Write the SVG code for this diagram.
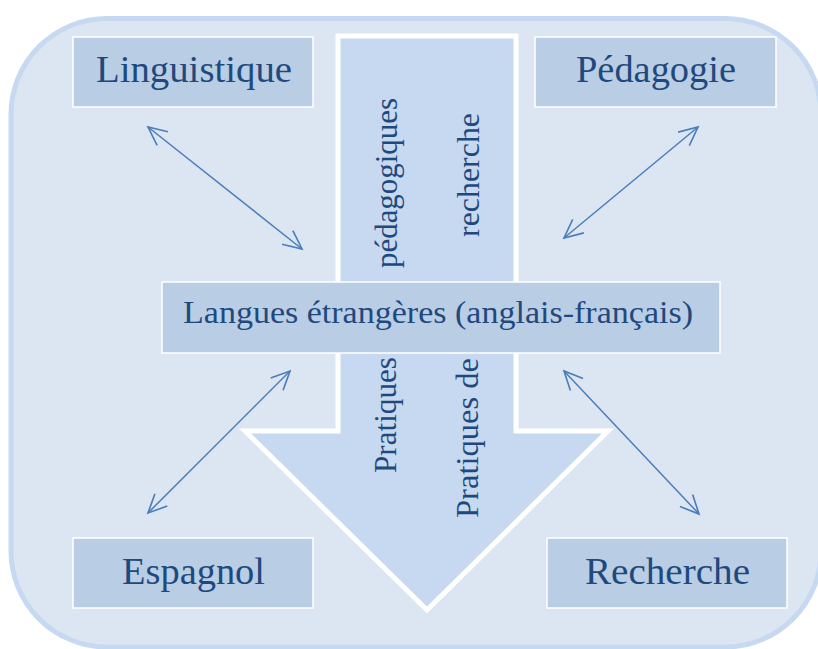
<svg xmlns="http://www.w3.org/2000/svg" width="818" height="649" viewBox="0 0 818 649">
<style>
.nodebox{fill:#b9cde5;stroke:#ffffff;stroke-width:1.5}
.lbl{font-family:"Liberation Serif","Times New Roman",serif;fill:#1f497d}
.big{font-size:37.3px}
.mid{font-size:32px}
.conn{stroke:#4a7ebb;stroke-width:1.5;fill:none;marker-start:url(#ah);marker-end:url(#ah)}
</style>
<defs>
<marker id="ah" markerUnits="userSpaceOnUse" markerWidth="24" markerHeight="24" viewBox="-20 -10 22 20" refX="0" refY="0" orient="auto-start-reverse" overflow="visible">
<path d="M-17,-8 L0,0 L-17,8" fill="none" stroke="#4a7ebb" stroke-width="1.5"/>
</marker>
</defs>
<rect x="0" y="0" width="818" height="649" fill="#ffffff"/>
<g id="background">
<rect x="11" y="18.5" width="810" height="628.5" rx="96" ry="96" fill="#dce6f2" stroke="#c6d9f1" stroke-width="5"/>
</g>
<g id="arrow">
<polygon points="338,36 516,36 516,431 608,431 427,610 245,431 338,431" fill="#c6d9f1" stroke="#ffffff" stroke-width="5" stroke-linejoin="miter"/>
<text class="lbl mid" transform="translate(397,183) rotate(-90)" text-anchor="middle" textLength="170" lengthAdjust="spacingAndGlyphs">pédagogiques</text>
<text class="lbl mid" transform="translate(479,175) rotate(-90)" text-anchor="middle" textLength="124" lengthAdjust="spacingAndGlyphs">recherche</text>
<text class="lbl mid" transform="translate(396,415) rotate(-90)" text-anchor="middle" textLength="116" lengthAdjust="spacingAndGlyphs">Pratiques</text>
<text class="lbl mid" transform="translate(478,438) rotate(-90)" text-anchor="middle" textLength="160" lengthAdjust="spacingAndGlyphs">Pratiques de</text>
</g>
<g id="connectors">
<line class="conn" x1="148" y1="127" x2="302" y2="249"/>
<line class="conn" x1="698" y1="127" x2="564" y2="238"/>
<line class="conn" x1="290" y1="371" x2="148" y2="513"/>
<line class="conn" x1="564" y1="371" x2="699" y2="514"/>
</g>
<g id="linguistique">
<rect class="nodebox" x="73" y="37" width="240" height="70"/>
<text class="lbl big" x="194" y="82" text-anchor="middle" textLength="196" lengthAdjust="spacingAndGlyphs">Linguistique</text>
</g>
<g id="pedagogie">
<rect class="nodebox" x="535" y="37" width="241" height="70"/>
<text class="lbl big" x="656" y="82" text-anchor="middle" textLength="160" lengthAdjust="spacingAndGlyphs">Pédagogie</text>
</g>
<g id="langues">
<rect class="nodebox" x="162" y="282" width="558" height="71"/>
<text class="lbl mid" x="438" y="323" text-anchor="middle" textLength="510" lengthAdjust="spacingAndGlyphs">Langues étrangères (anglais-français)</text>
</g>
<g id="espagnol">
<rect class="nodebox" x="73" y="538" width="240" height="70"/>
<text class="lbl big" x="193.5" y="584" text-anchor="middle" textLength="143" lengthAdjust="spacingAndGlyphs">Espagnol</text>
</g>
<g id="recherche">
<rect class="nodebox" x="547" y="538" width="240" height="70"/>
<text class="lbl big" x="667.5" y="584" text-anchor="middle" textLength="165" lengthAdjust="spacingAndGlyphs">Recherche</text>
</g>
</svg>
